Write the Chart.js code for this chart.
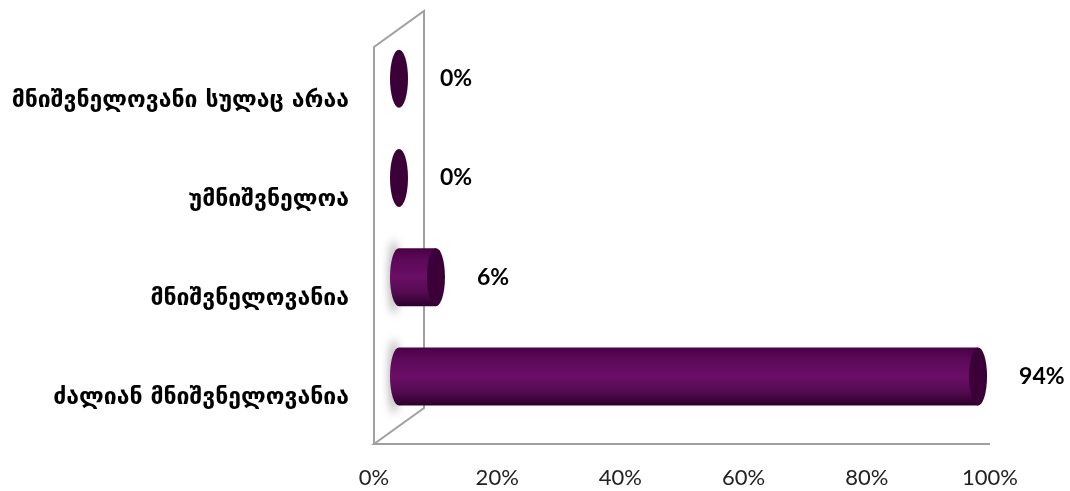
<!DOCTYPE html>
<html>
<head>
<meta charset="utf-8">
<script src="https://cdn.jsdelivr.net/npm/chart.js@4/dist/chart.umd.min.js"></script>
<style>
    html, body { margin: 0; padding: 0; background: #fff; }
    #wrap { width: 1070px; height: 491px; }
</style>
</head>
<body>
<div id="wrap"><canvas id="importanceChart"></canvas></div>
<script>
const categories = [
    'მნიშვნელოვანი სულაც არაა',
    'უმნიშვნელოა',
    'მნიშვნელოვანია',
    'ძალიან მნიშვნელოვანია'
];
const shares = [0, 0, 6, 94];
const xTicks = [0, 20, 40, 60, 80, 100];

// depth of the 3d box and offset of the cylinders inside it
const DEPTH_X = 50, DEPTH_Y = -36;
const BAR_DX = 25, BAR_DY = -18;
const CAP_RX = 9;

const wallPlugin = {
    id: 'wall',
    beforeDatasetsDraw(chart) {
        const { ctx, chartArea: a } = chart;
        ctx.save();
        ctx.strokeStyle = '#a0a0a0';
        ctx.lineWidth = 2;
        ctx.beginPath();
        ctx.moveTo(a.left, a.bottom);
        ctx.lineTo(a.left, a.top);
        ctx.lineTo(a.left + DEPTH_X, a.top + DEPTH_Y);
        ctx.lineTo(a.left + DEPTH_X, a.bottom + DEPTH_Y);
        ctx.lineTo(a.left, a.bottom);
        ctx.lineTo(a.right, a.bottom);
        ctx.stroke();
        ctx.restore();
    }
};

const cylinderPlugin = {
    id: 'cylinders',
    afterDatasetsDraw(chart) {
        const { ctx } = chart;
        const meta = chart.getDatasetMeta(0);
        meta.data.forEach((bar, i) => {
            const x0 = bar.base + BAR_DX;
            const x1 = bar.x + BAR_DX;
            const cy = bar.y + BAR_DY;
            const r = bar.height / 2;
            ctx.save();
            if (x1 - x0 > 1) {
                // soft shadow on the side wall
                ctx.filter = 'blur(4px)';
                ctx.fillStyle = 'rgba(110,110,110,0.55)';
                ctx.beginPath();
                ctx.ellipse(x0 - 5, cy, 5, r + 8, 0, 0, Math.PI * 2);
                ctx.fill();
                ctx.filter = 'none';

                const g = ctx.createLinearGradient(0, cy - r, 0, cy + r);
                g.addColorStop(0, '#4a0046');
                g.addColorStop(0.2, '#5b0958');
                g.addColorStop(0.5, '#6b0e67');
                g.addColorStop(0.78, '#520a4f');
                g.addColorStop(1, '#2c002b');
                ctx.fillStyle = g;
                ctx.beginPath();
                ctx.ellipse(x0, cy, CAP_RX, r, 0, Math.PI / 2, Math.PI * 1.5);
                ctx.lineTo(x1, cy - r);
                ctx.lineTo(x1, cy + r);
                ctx.closePath();
                ctx.fill();
            }
            ctx.fillStyle = '#3a0037';
            ctx.beginPath();
            ctx.ellipse(x1, cy, CAP_RX, r, 0, 0, Math.PI * 2);
            ctx.fill();

            // value label
            ctx.fillStyle = '#000';
            ctx.font = 'bold 23px Lato, "Open Sans", sans-serif';
            ctx.textAlign = 'left';
            ctx.textBaseline = 'middle';
            ctx.fillText(shares[i] + '%', x1 + 41, cy);
            ctx.restore();
        });
    }
};

new Chart(document.getElementById('importanceChart'), {
    type: 'bar',
    data: {
        labels: categories,
        datasets: [{
            data: shares,
            backgroundColor: 'rgba(0,0,0,0)',
            borderWidth: 0,
            barThickness: 58
        }]
    },
    options: {
        indexAxis: 'y',
        responsive: true,
        maintainAspectRatio: false,
        animation: false,
        layout: { padding: { top: 47, right: 80, left: 0, bottom: 0 } },
        plugins: {
            legend: { display: false },
            tooltip: { enabled: false }
        },
        scales: {
            x: {
                min: 0,
                max: 100,
                afterBuildTicks(scale) {
                    scale.ticks = xTicks.map(v => ({ value: v }));
                },
                afterFit(scale) { scale.height = 47; },
                grid: { display: false, drawTicks: false, tickLength: 0 },
                border: { display: false },
                ticks: {
                    padding: 21,
                    color: '#222',
                    font: { family: 'Lato, "Open Sans", sans-serif', size: 22 },
                    callback: v => v + '%'
                }
            },
            y: {
                afterFit(scale) { scale.width = 374; },
                grid: { display: false, drawTicks: false, tickLength: 0 },
                border: { display: false },
                ticks: {
                    padding: 25,
                    labelOffset: 4,
                    color: '#000',
                    font: { family: '"DejaVu Sans", sans-serif', size: 23, weight: 'bold' }
                }
            }
        }
    },
    plugins: [wallPlugin, cylinderPlugin]
});
</script>
</body>
</html>
